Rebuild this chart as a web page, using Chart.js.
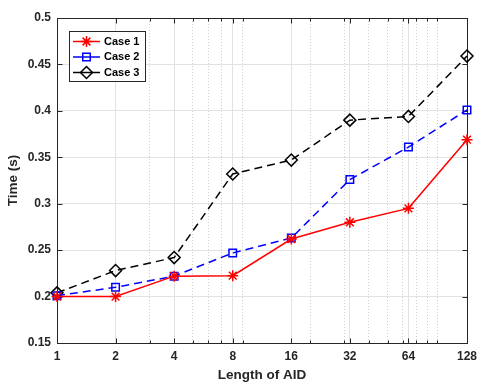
<!DOCTYPE html>
<html>
<head>
<meta charset="utf-8">
<script src="https://cdn.jsdelivr.net/npm/chart.js@4.4.0/dist/chart.umd.min.js"></script>
<style>
  html, body { margin: 0; padding: 0; background: #fff; }
</style>
</head>
<body>
<canvas id="timeChart" width="479" height="382"></canvas>
<script>
// data
const aidLength = [1, 2, 4, 8, 16, 32, 64, 128];
const case1 = [0.200, 0.200, 0.222, 0.2225, 0.262, 0.280, 0.295, 0.369];
const case2 = [0.201, 0.210, 0.222, 0.247, 0.263, 0.326, 0.361, 0.401];
const case3 = [0.204, 0.228, 0.242, 0.332, 0.347, 0.390, 0.394, 0.459];

const xMajorTicks = [1, 2, 4, 8, 16, 32, 64, 128];
const xMinorTicks = [3, 5, 6, 7, 9, 20, 30, 40, 50, 60, 70, 80, 90];
const yTicks = [0.15, 0.2, 0.25, 0.3, 0.35, 0.4, 0.45, 0.5];

const FONT = '"Liberation Sans", Arial, Helvetica, sans-serif';
const AXIS_COLOR = '#262626';

function toPoints(ys) {
    return aidLength.map((x, i) => ({ x: x, y: ys[i] }));
}

function isMinor(tick) {
    return tick && !xMajorTicks.includes(tick.value);
}

// box around the axes + inward tick marks (matlab style)
const axesFrame = {
    id: 'axesFrame',
    beforeDatasetsDraw(chart) {
        const { ctx, chartArea } = chart;
        const xs = chart.scales.x, ys = chart.scales.y;
        const L = Math.round(chartArea.left) + 0.5, R = Math.round(chartArea.right) + 0.5;
        const T = Math.round(chartArea.top) + 0.5, B = Math.round(chartArea.bottom) + 0.5;
        ctx.save();
        ctx.strokeStyle = AXIS_COLOR;
        ctx.lineWidth = 1;
        ctx.setLineDash([]);
        ctx.beginPath();
        xs.ticks.forEach(t => {
            const px = Math.round(xs.getPixelForValue(t.value)) + 0.5;
            const len = isMinor(t) ? 3 : 5;
            ctx.moveTo(px, B); ctx.lineTo(px, B - len);
            ctx.moveTo(px, T); ctx.lineTo(px, T + len);
        });
        ys.ticks.forEach(t => {
            const py = Math.round(ys.getPixelForValue(t.value)) + 0.5;
            ctx.moveTo(L, py); ctx.lineTo(L + 5, py);
            ctx.moveTo(R, py); ctx.lineTo(R - 5, py);
        });
        ctx.stroke();
        ctx.strokeRect(L, T, R - L, B - T);
        ctx.restore();
    }
};

// legend drawn inside the plot, line sample with marker in the middle
const boxedLegend = {
    id: 'boxedLegend',
    afterDraw(chart) {
        const { ctx, chartArea } = chart;
        const x0 = Math.round(chartArea.left) + 12, y0 = Math.round(chartArea.top) + 13;
        const w = 76, h = 50;
        ctx.save();
        ctx.fillStyle = '#fff';
        ctx.fillRect(x0, y0, w, h);
        ctx.strokeStyle = AXIS_COLOR;
        ctx.lineWidth = 1;
        ctx.strokeRect(x0 + 0.5, y0 + 0.5, w, h);
        chart.data.datasets.forEach((ds, i) => {
            const cy = y0 + 10.5 + i * 15.5;
            ctx.setLineDash([]);
            ctx.strokeStyle = ds.borderColor;
            ctx.lineWidth = 1.5;
            ctx.beginPath();
            ctx.moveTo(x0 + 4, cy);
            ctx.lineTo(x0 + 31, cy);
            ctx.stroke();
            ctx.fillStyle = 'rgba(0,0,0,0)';
            Chart.helpers.drawPoint(ctx, {
                pointStyle: ds.pointStyle,
                radius: ds.pointRadius,
                borderWidth: 1.5,
                rotation: 0
            }, x0 + 17.5, cy);
            ctx.fillStyle = '#000';
            ctx.font = 'bold 11px ' + FONT;
            ctx.textBaseline = 'middle';
            ctx.textAlign = 'left';
            ctx.fillText(ds.label, x0 + 35, cy);
        });
        ctx.restore();
    }
};

const lineData = {
    datasets: [{
        label: 'Case 1',
        data: toPoints(case1),
        borderColor: '#ff0000',
        backgroundColor: 'rgba(0,0,0,0)',
        borderWidth: 1.5,
        pointStyle: 'star',
        pointRadius: 5.5,
        pointBorderWidth: 1.5,
        clip: false
    }, {
        label: 'Case 2',
        data: toPoints(case2),
        borderColor: '#0000ff',
        backgroundColor: 'rgba(0,0,0,0)',
        borderWidth: 1.5,
        borderDash: [8, 5],
        pointStyle: 'rect',
        pointRadius: 5.3,
        pointBorderWidth: 1.5,
        clip: false
    }, {
        label: 'Case 3',
        data: toPoints(case3),
        borderColor: '#000000',
        backgroundColor: 'rgba(0,0,0,0)',
        borderWidth: 1.5,
        borderDash: [8, 5],
        pointStyle: 'rectRot',
        pointRadius: 6,
        pointBorderWidth: 1.5,
        clip: false
    }]
};

const chartOpt = {
    responsive: false,
    animation: false,
    devicePixelRatio: 1,
    layout: { padding: { left: 7, right: 12, top: 18, bottom: 0 } },
    plugins: {
        legend: { display: false },
        tooltip: { enabled: false }
    },
    scales: {
        x: {
            type: 'logarithmic',
            min: 1,
            max: 128,
            afterBuildTicks: (scale) => {
                scale.ticks = xMajorTicks.concat(xMinorTicks)
                    .sort((a, b) => a - b)
                    .map(v => ({ value: v }));
            },
            afterFit: (scale) => {
                scale.height = 39;
                scale.paddingLeft = 0;
                scale.paddingRight = 0;
            },
            grid: {
                drawTicks: false,
                lineWidth: 1,
                color: (c) => isMinor(c.tick) ? '#cfcfcf' : '#e2e2e2'
            },
            border: {
                display: false,
                dash: (c) => isMinor(c.tick) ? [1, 2] : []
            },
            ticks: {
                autoSkip: false,
                maxRotation: 0,
                padding: 6,
                color: AXIS_COLOR,
                font: { family: FONT, size: 12, weight: 'bold' },
                callback: (v) => xMajorTicks.includes(v) ? String(v) : ''
            },
            title: {
                display: true,
                text: 'Length of AID',
                color: AXIS_COLOR,
                padding: 0,
                font: { family: FONT, size: 13.5, weight: 'bold', lineHeight: 1 }
            }
        },
        y: {
            min: 0.15,
            max: 0.5,
            afterBuildTicks: (scale) => {
                scale.ticks = yTicks.map(v => ({ value: v }));
            },
            afterFit: (scale) => {
                scale.width = 50;
                scale.paddingTop = 0;
                scale.paddingBottom = 0;
            },
            grid: { drawTicks: false, color: '#e2e2e2', lineWidth: 1 },
            border: { display: false },
            ticks: {
                padding: 6,
                color: AXIS_COLOR,
                font: { family: FONT, size: 12, weight: 'bold' },
                callback: (v) => String(v)
            },
            title: {
                display: true,
                text: 'Time (s)',
                color: AXIS_COLOR,
                padding: 0,
                font: { family: FONT, size: 13.5, weight: 'bold', lineHeight: 1 }
            }
        }
    }
};

const ctx = document.getElementById('timeChart').getContext('2d');
new Chart(ctx, {
    type: 'line',
    data: lineData,
    options: chartOpt,
    plugins: [axesFrame, boxedLegend]
});
</script>
</body>
</html>
